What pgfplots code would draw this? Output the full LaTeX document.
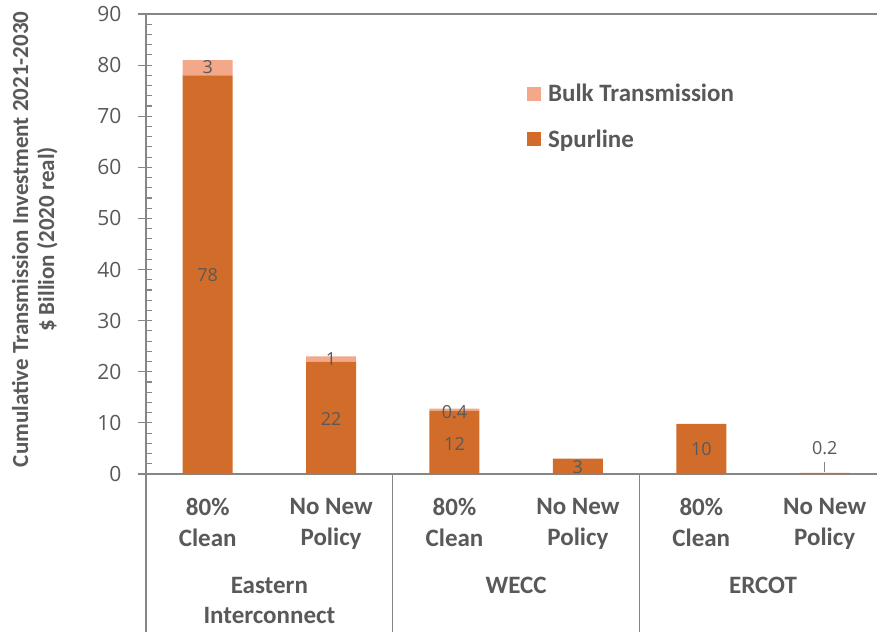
\documentclass[border=0pt]{standalone}
\usepackage{pgfplots}
\pgfplotsset{compat=1.18}
\usepackage{fontspec}
\setmainfont{Carlito}
\newfontfamily\osans{Open Sans}
\definecolor{spur}{RGB}{210,108,42}
\definecolor{bulk}{RGB}{243,168,137}
\definecolor{txt}{RGB}{89,89,89}
\definecolor{axc}{RGB}{134,134,134}
\pgfplotsset{sqlegend/.style={legend image code/.code={\fill[##1,draw=none] (0pt,-7pt) rectangle (14pt,7pt); \path (0pt,0pt) -- (19pt,0pt);}}}
\begin{document}
\begin{tikzpicture}
\useasboundingbox (-146pt,-158pt) rectangle (731pt,474pt);
\begin{axis}[
  scale only axis, width=731pt, height=460pt,
  ybar stacked, bar width=50pt,
  xmin=-0.5, xmax=5.424, ymin=0, ymax=90,
  clip=false,
  axis y line*=left, axis x line*=bottom,
  axis line style={axc, line width=1.2pt},
  xtick={0,...,5},
  xticklabels={{80\%\\Clean},{No New\\Policy},{80\%\\Clean},{No New\\Policy},{80\%\\Clean},{No New\\Policy}},
  xticklabel style={align=center, font=\bfseries\fontsize{25}{31}\selectfont, text=txt, anchor=north, inner sep=0pt, yshift=-17pt},
  x tick style={draw=none},
  ytick={0,10,...,90},
  minor y tick num=4,
  tick align=center,
  major tick length=14pt, minor tick length=6pt,
  y tick style={axc, line width=1.2pt},
  major y tick style={xshift=-1pt},
  minor y tick style={xshift=3pt},
  yticklabel style={font=\osans\fontsize{21}{24}\selectfont, text=txt, xshift=-14pt},
  /pgf/number format/assume math mode=true,
  ylabel={Cumulative Transmission Investment 2021-2030\\\$ Billion (2020 real)},
  every axis y label/.style={at={(axis description cs:-0.152,0.51)}, rotate=90, anchor=center, align=center, font=\bfseries\fontsize{23}{26}\selectfont, text=txt},
  legend style={at={(axis description cs:0.517,0.856)}, anchor=north west, draw=none, fill=none, font=\bfseries\fontsize{25}{28}\selectfont, text=txt, row sep=22pt, legend cell align=left},
  reverse legend,
]
\addplot[fill=spur, draw=none, sqlegend] coordinates {(0,78) (1,22) (2,12.4) (3,3) (4,9.8) (5,0.2)};
\addplot[fill=bulk, draw=none, sqlegend] coordinates {(0,3) (1,1) (2,0.4) (3,0) (4,0) (5,0)};
\legend{Spurline, Bulk Transmission}

\draw[axc, line width=1.2pt] (rel axis cs:0,1) -- (rel axis cs:1,1);
\draw[axc, line width=1.2pt] (axis cs:-0.5,0) -- ++(0pt,-158pt);
\draw[axc, line width=1.2pt] (axis cs:1.5,0) -- ++(0pt,-158pt);
\draw[axc, line width=1.2pt] (axis cs:3.5,0) -- ++(0pt,-158pt);
\draw[axc, line width=0.8pt] (axis cs:5,0.3) -- (axis cs:5,2.3);

\coordinate (a1) at (axis cs:0,39);
\coordinate (a2) at (axis cs:0,79.6);
\coordinate (a3) at (axis cs:1,10.8);
\coordinate (a4) at (axis cs:1,22.4);
\coordinate (a5) at (axis cs:2,5.8);
\coordinate (a6) at (axis cs:2,12.1);
\coordinate (a7) at (axis cs:3,1.3);
\coordinate (a8) at (axis cs:4,4.8);
\coordinate (a9) at (axis cs:5,5.1);

\node[font=\bfseries\fontsize{25}{30}\selectfont, text=txt, align=center, anchor=north, inner sep=0pt, yshift=-103pt] at (axis cs:0.5,0) {Eastern\\Interconnect};
\node[font=\bfseries\fontsize{25}{30}\selectfont, text=txt, anchor=north, inner sep=0pt, yshift=-103pt] at (axis cs:2.5,0) {WECC};
\node[font=\bfseries\fontsize{25}{30}\selectfont, text=txt, anchor=north, inner sep=0pt, yshift=-103pt] at (axis cs:4.5,0) {ERCOT};
\end{axis}
\begin{scope}[every node/.style={font=\osans\fontsize{18}{20}\selectfont, text=txt}]
\node at (a1) {78};
\node at (a2) {3};
\node at (a3) {22};
\node at (a4) {1};
\node at (a5) {12};
\node at (a6) {0.4};
\node at (a7) {3};
\node at (a8) {10};
\node at (a9) {0.2};
\end{scope}
\end{tikzpicture}
\end{document}
